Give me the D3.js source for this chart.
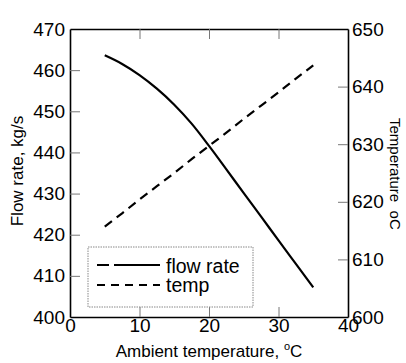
<!DOCTYPE html>
<html>
<head>
<meta charset="utf-8">
<script src="https://cdn.jsdelivr.net/npm/d3@7"></script>
<style>
  body { margin: 0; background: #fff; }
  svg text { font-family: "Liberation Sans", Arial, sans-serif; fill: #000; }
</style>
</head>
<body>
<div class="chart"></div>
<script>
// values
const ambient = [5, 7.5, 10, 12.5, 15, 17.5, 20, 22.5, 25, 27.5, 30, 32.5, 35]
const flowRate = [463.6, 461.5, 458.8, 455.5, 451.6, 447.0, 441.6, 435.9, 430.1, 424.4, 418.6, 412.9, 407.2]
const temp = [615.7, 618.0, 620.4, 622.7, 625.0, 627.4, 629.7, 632.0, 634.4, 636.7, 639.0, 641.4, 643.7]

const xTicks = [0, 10, 20, 30, 40]
const leftTicks = [400, 410, 420, 430, 440, 450, 460, 470]
const rightTicks = [600, 610, 620, 630, 640, 650]
const legendItems = [
  { name: 'flow rate', dash: '12,5,60' },
  { name: 'temp', dash: '8,6' }
]

const width = 406,
      height = 363

const svg = d3.select('.chart').append('svg')
  .attr('width', width)
  .attr('height', height)

const x = d3.scaleLinear().domain([0, 40]).range([70, 348])
const yL = d3.scaleLinear().domain([400, 470]).range([317, 29])
const yR = d3.scaleLinear().domain([600, 650]).range([317, 29])

// axes, ticks inward
const bottomAxis = svg.append('g').attr('transform', 'translate(0,317)')
  .call(d3.axisBottom(x).tickValues(xTicks).tickSize(-10).tickSizeOuter(0).tickPadding(1))
const topAxis = svg.append('g').attr('transform', 'translate(0,29)')
  .call(d3.axisTop(x).tickValues([10, 20, 30]).tickSize(-10).tickSizeOuter(0).tickFormat(''))
const leftAxis = svg.append('g').attr('transform', 'translate(70,0)')
  .call(d3.axisLeft(yL).tickValues(leftTicks).tickSize(-10).tickSizeOuter(0).tickPadding(5))
const rightAxis = svg.append('g').attr('transform', 'translate(348,0)')
  .call(d3.axisRight(yR).tickValues(rightTicks).tickSize(-10).tickSizeOuter(0).tickPadding(4))

svg.selectAll('.domain').attr('stroke', '#000').attr('stroke-width', 1.6)
svg.selectAll('.tick line').attr('stroke', '#777').attr('stroke-width', 1)
svg.selectAll('.tick text').attr('font-size', 19).attr('font-family', '"Liberation Sans", Arial, sans-serif')
// hide the end ticks that sit on the frame
svg.selectAll('.tick').filter(d => d === 0 || d === 40 || d === 400 || d === 470 || d === 600 || d === 650)
  .select('line').remove()

// lines
const flowLine = d3.line()
  .x((d, i) => x(ambient[i]))
  .y(d => yL(d))
  .curve(d3.curveMonotoneX)

const tempLine = d3.line()
  .x((d, i) => x(ambient[i]))
  .y(d => yR(d))

svg.append('path')
  .datum(flowRate)
  .attr('d', flowLine)
  .attr('fill', 'none')
  .attr('stroke', '#000')
  .attr('stroke-width', 2.2)

svg.append('path')
  .datum(temp)
  .attr('d', tempLine)
  .attr('fill', 'none')
  .attr('stroke', '#000')
  .attr('stroke-width', 2.2)
  .attr('stroke-dasharray', '9,6')

// legend
const lg = svg.append('g')
lg.append('rect')
  .attr('x', 88).attr('y', 247)
  .attr('width', 165).attr('height', 60)
  .attr('fill', '#fff')
  .attr('stroke', '#888')
  .attr('stroke-dasharray', '1.5,1')

legendItems.forEach((item, i) => {
  const ly = 265 + i * 20
  lg.append('line')
    .attr('x1', 97).attr('x2', 160)
    .attr('y1', ly).attr('y2', ly)
    .attr('stroke', '#000')
    .attr('stroke-width', 1.8)
    .attr('stroke-dasharray', item.dash)
  lg.append('text')
    .attr('x', 166).attr('y', ly + 8 - i * 1)
    .attr('font-size', 19.5)
    .text(item.name)
})

// axis titles
const xt = svg.append('text')
  .attr('x', 209).attr('y', 357)
  .attr('text-anchor', 'middle')
  .attr('font-size', 17)
xt.append('tspan').text('Ambient temperature, ')
xt.append('tspan').attr('font-size', 11).attr('dy', -7).text('o')
xt.append('tspan').attr('dy', 7).text('C')

svg.append('text')
  .attr('transform', 'translate(23,171) rotate(-90)')
  .attr('text-anchor', 'middle')
  .attr('font-size', 17)
  .text('Flow rate, kg/s')

svg.append('text')
  .attr('transform', 'translate(390,118) rotate(90)')
  .attr('text-anchor', 'start')
  .attr('font-size', 15)
  .attr('xml:space', 'preserve')
  .text('Temperature  oC')
</script>
</body>
</html>
